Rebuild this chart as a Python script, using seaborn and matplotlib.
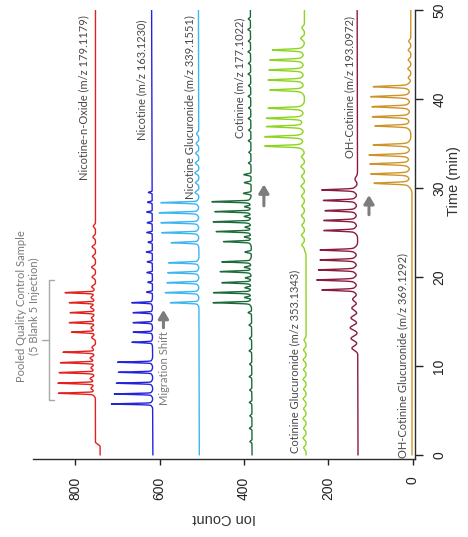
import numpy as np
import pandas as pd
import matplotlib
matplotlib.use("Agg")
import matplotlib.pyplot as plt
import seaborn as sns

# ---------------- data ----------------
time_ticks = [0, 10, 20, 30, 40, 50]
ion_ticks = [0, 200, 400, 600, 800]

compounds = ["Nicotine-n-Oxide", "Nicotine", "Nicotine Glucuronide", "Cotinine",
             "Cotinine Glucuronide", "OH-Cotinine", "OH-Cotinine Glucuronide"]
trace_labels = ["Nicotine-n-Oxide (m/z 179.1179)",
                "Nicotine (m/z 163.1230)",
                "Nicotine Glucuronide (m/z 339.1551)",
                "Cotinine (m/z 177.1022)",
                "Cotinine Glucuronide (m/z 353.1343)",
                "OH-Cotinine (m/z 193.0972)",
                "OH-Cotinine Glucuronide (m/z 369.1292)"]

# Nicotine-n-Oxide
noxide_base_t = [0, 1.0, 1.4, 50]
noxide_base_v = [741, 741, 752, 752]
noxide_peak_t = [6.93, 8.06, 9.25, 10.37, 11.54, 13.79, 14.87, 15.99, 17.11, 18.24]
noxide_peak_h = [88, 89, 86, 83, 77, 57, 62, 60, 62, 72]
noxide_bump_t = [7.5, 8.6, 9.8, 10.9, 12.1, 13.2, 14.3, 15.4, 16.6, 17.7, 18.9, 20.0, 21.1, 22.3, 23.4, 24.5, 25.7]
noxide_bump_h = [10, 12, 10, 12, 8, 9, 10, 9, 11, 10, 9, 8, 9, 7, 8, 6, 5]

# Nicotine
nic_base_t = [0, 50]
nic_base_v = [616, 619]
nic_peak_t = [5.73, 6.85, 8.06, 9.29, 10.42, 12.66, 13.79, 14.87, 15.99, 17.11]
nic_peak_h = [98, 91, 86, 81, 83, 49, 46, 46, 46, 49]
nic_bump_t = [18.3, 19.4, 20.5, 21.7, 22.8, 23.9, 25.0, 26.1, 27.3, 28.4, 29.5]
nic_bump_h = [14, 11, 13, 12, 14, 10, 13, 12, 13, 11, 9]

# Nicotine Glucuronide
nglu_base_t = [0, 50]
nglu_base_v = [506, 508]
nglu_peak_t = [17.11, 18.24, 19.36, 20.48, 21.6, 23.85, 24.98, 26.1, 27.22, 28.35]
nglu_peak_h = [68, 80, 76, 74, 72, 66, 88, 90, 94, 90]
nglu_bump_t = [29.5, 30.6, 31.7, 32.8, 33.9, 35.0, 36.1]
nglu_bump_h = [9, 8, 9, 8, 7, 6, 5]

# Cotinine
cot_base_t = [0, 50]
cot_base_v = [381, 385]
cot_peak_t = [17.11, 18.24, 19.36, 20.6, 21.7, 23.97, 25.1, 26.2, 27.34, 28.46]
cot_peak_h = [91, 90, 70, 74, 70, 66, 83, 90, 86, 93]
cot_bump_t = [1.5, 3.0, 4.4, 5.9, 7.3, 8.8, 10.2, 11.7, 13.1, 14.6, 16.0, 17.7, 18.8, 19.9,
              21.1, 22.8, 24.5, 25.6, 26.8, 27.9, 29.4, 30.6, 31.5, 32.8, 34.0, 35.3, 36.5,
              37.8, 39.0, 40.3, 41.5, 42.8, 44.0, 45.3, 46.5, 47.8, 49.0]
cot_bump_h = [5, 6, 5, 6, 5, 6, 5, 6, 5, 6, 8, 16, 15, 14, 16, 15, 16, 14, 16, 15, 18, 16, 17,
              6, 5, 6, 5, 6, 5, 6, 5, 6, 5, 6, 5, 6, 5]

# Cotinine Glucuronide
cglu_base_t = [0, 22.5, 23.0, 50]
cglu_base_v = [253, 253, 257, 257]
cglu_peak_t = [34.7, 35.76, 36.9, 37.83, 38.96, 41.0, 42.13, 43.26, 44.38, 45.5]
cglu_peak_h = [94, 94, 90, 90, 86, 82, 86, 84, 82, 76]
cglu_bump_t = [0.8, 1.9, 3.0, 4.1, 5.2, 6.3, 7.4, 8.5, 9.6, 10.7, 11.8, 12.9,
               23.6, 24.7, 25.8, 26.9, 28.0, 29.1, 30.2, 31.3, 32.4, 33.5, 46.8, 48.0]
cglu_bump_h = [6, 7, 6, 7, 6, 7, 6, 7, 6, 7, 6, 5, 6, 7, 6, 7, 6, 7, 8, 7, 8, 7, 9, 6]

# OH-Cotinine
ohc_base_t = [0, 50]
ohc_base_v = [130, 132]
ohc_peak_t = [18.54, 19.66, 20.79, 21.91, 23.03, 25.22, 26.35, 27.45, 28.6, 29.78]
ohc_peak_h = [85, 97, 93, 89, 89, 80, 80, 77, 81, 85]
ohc_bump_t = [12.0, 13.1, 14.3, 15.4, 16.5, 17.5, 31.0]
ohc_bump_h = [14, 16, 18, 16, 14, 12, 6]

# OH-Cotinine Glucuronide
ohg_base_t = [0, 29.5, 30.0, 50]
ohg_base_v = [2, 2, 5, 5]
ohg_peak_t = [30.53, 31.57, 32.7, 33.7, 34.83, 36.97, 38.0, 39.13, 40.26, 41.38]
ohg_peak_h = [87, 95, 97, 99, 89, 85, 91, 92, 95, 89]
ohg_bump_t = [42.4, 43.4, 44.4, 45.5, 46.5]
ohg_bump_h = [6, 7, 6, 6, 5]

colors = ["#e3201c", "#2424dc", "#3db6f2", "#1d6b3a", "#8cd41f", "#8a1b3d", "#cf9429"]

# ---------------- build traces ----------------
t = np.round(np.arange(0, 50.0001, 0.01), 2)


def build(base_t, base_v, pk_t, pk_h, bp_t, bp_h, sig, frac, wide, bsig):
    y = np.interp(t, base_t, base_v).astype(float)
    for c, h in zip(pk_t, pk_h):
        y += h * (1 - frac) * np.exp(-0.5 * ((t - c) / sig) ** 2)
        y += h * frac * np.exp(-0.5 * ((t - c) / wide) ** 2)
    for c, h in zip(bp_t, bp_h):
        y += h * np.exp(-0.5 * ((t - c) / bsig) ** 2)
    return y


specs = [
    (noxide_base_t, noxide_base_v, noxide_peak_t, noxide_peak_h, noxide_bump_t, noxide_bump_h, 0.06, 0.10, 0.22, 0.15),
    (nic_base_t, nic_base_v, nic_peak_t, nic_peak_h, nic_bump_t, nic_bump_h, 0.05, 0.06, 0.20, 0.06),
    (nglu_base_t, nglu_base_v, nglu_peak_t, nglu_peak_h, nglu_bump_t, nglu_bump_h, 0.06, 0.08, 0.22, 0.15),
    (cot_base_t, cot_base_v, cot_peak_t, cot_peak_h, cot_bump_t, cot_bump_h, 0.06, 0.08, 0.22, 0.08),
    (cglu_base_t, cglu_base_v, cglu_peak_t, cglu_peak_h, cglu_bump_t, cglu_bump_h, 0.08, 0.14, 0.28, 0.18),
    (ohc_base_t, ohc_base_v, ohc_peak_t, ohc_peak_h, ohc_bump_t, ohc_bump_h, 0.07, 0.14, 0.28, 0.25),
    (ohg_base_t, ohg_base_v, ohg_peak_t, ohg_peak_h, ohg_bump_t, ohg_bump_h, 0.08, 0.14, 0.28, 0.15),
]

frames = []
for name, s in zip(compounds, specs):
    frames.append(pd.DataFrame({"time": t, "ion": build(*s), "compound": name}))
df = pd.concat(frames, ignore_index=True)

# ---------------- figure ----------------
sns.set_style("ticks")
plt.rcParams["font.family"] = ["Liberation Sans", "DejaVu Sans"]

fig = plt.figure(figsize=(4.68, 5.37), dpi=100)
ax = fig.add_axes([33 / 468, 78 / 537, 382 / 468, 449 / 537])

sns.lineplot(data=df, x="ion", y="time", hue="compound", hue_order=compounds,
             palette=colors, orient="y", estimator=None, sort=False,
             legend=False, linewidth=1.0, ax=ax)

ax.set_xlim(900, -5)
ax.set_ylim(-0.45, 50)
ax.set_xticks(ion_ticks)
ax.set_yticks(time_ticks)

ax.yaxis.tick_right()
ax.yaxis.set_label_position("right")
for side in ("top", "left"):
    ax.spines[side].set_visible(False)
for side in ("bottom", "right"):
    ax.spines[side].set_color("#2b2b2b")
    ax.spines[side].set_linewidth(1.0)

ax.tick_params(axis="x", labelrotation=90, length=4.5, width=1, pad=8,
               labelsize=10, colors="#222222")
ax.tick_params(axis="y", labelrotation=90, length=5.5, width=1, pad=7,
               labelsize=10, colors="#222222")
for lab in ax.get_yticklabels():
    lab.set_verticalalignment("center")

ax.set_xlabel("Ion Count", fontsize=10.5, rotation=180, color="#333333")
ax.set_ylabel("Time (min)", fontsize=10.5, rotation=90, color="#333333")
ax.xaxis.set_label_coords(0.5, -0.115)
ax.yaxis.set_label_coords(1.085, 0.62)

# trace labels
label_anchor = [(767, 30.9), (630, 35.4), (516, 28.8), (398, 35.6),
                (267, 0.2), (137, 33.4), (12, -0.3)]
for txt, (xi, ti) in zip(trace_labels, label_anchor):
    ax.text(xi, ti, txt, rotation=90, rotation_mode="anchor", ha="left", va="bottom",
            fontsize=8, family=["Lato", "DejaVu Sans"], color="#474747", clip_on=False)

ax.text(575, 5.6, "Migration Shift", rotation=90, rotation_mode="anchor", ha="left",
        va="bottom", fontsize=8, family=["Lato", "DejaVu Sans"], color="#7a7a7a")

# migration arrows
for xi, t0, t1 in [(591, 14.3, 16.3), (353, 28.0, 30.4), (104, 27.0, 29.2)]:
    ax.annotate("", xy=(xi, t1), xytext=(xi, t0),
                arrowprops=dict(arrowstyle="-|>,head_length=0.5,head_width=0.3",
                                lw=2.2, color="#7d7d7d", shrinkA=0, shrinkB=0))

# pooled QC bracket
ax.plot([851, 863, 863, 851], [19.66, 19.66, 6.18, 6.18], color="#a8a8a8", lw=1.0,
        clip_on=False)
ax.plot([863, 879], [12.9, 12.9], color="#a8a8a8", lw=1.0, clip_on=False)
ax.text(912, 16.7, "Pooled Quality Control Sample\n(5 Blank 5 Injection)", rotation=90,
        ha="center", va="center", multialignment="center", fontsize=8,
        family=["Lato", "DejaVu Sans"], color="#7a7a7a", linespacing=1.25, clip_on=False)

fig.savefig("out.png", dpi=100)
